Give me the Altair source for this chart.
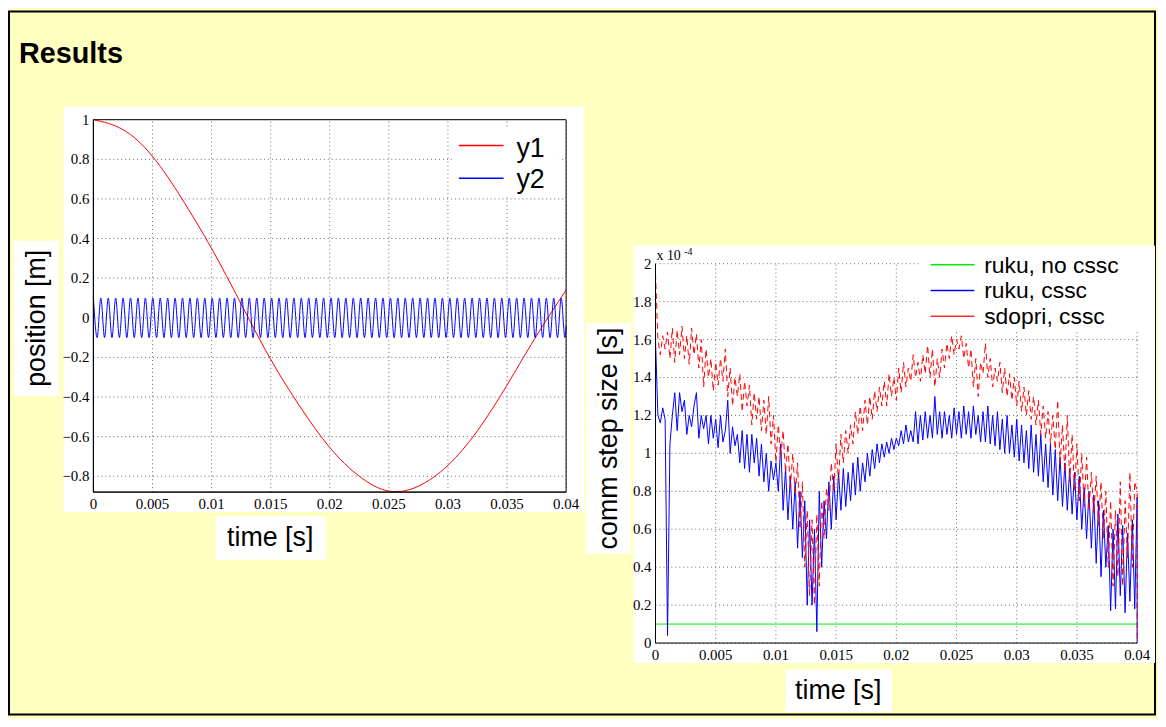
import altair as alt
import numpy as np
import pandas as pd

W, H = 1158, 711

# ---------------- left panel data ----------------
pos_series = ["y1", "y2"]
time_ticks = [0, 0.005, 0.01, 0.015, 0.02, 0.025, 0.03, 0.035, 0.04]
pos_ticks = [-0.8, -0.6, -0.4, -0.2, 0, 0.2, 0.4, 0.6, 0.8, 1]

y1_time = [0, 0.0025, 0.005, 0.0075, 0.01, 0.0125, 0.015, 0.0175, 0.02,
           0.0225, 0.025, 0.0275, 0.03, 0.0325, 0.035, 0.0375, 0.04]
y1_pos = [1.0, 0.95, 0.815, 0.60, 0.35, 0.07, -0.21, -0.45, -0.655,
          -0.80, -0.875, -0.85, -0.745, -0.57, -0.34, -0.09, 0.14]

# extremes of the fast oscillation (peak / trough times), last point at 0.04
y2_time = list(np.round(np.linspace(0, 0.039898, 128), 7)) + [0.04]
y2_pos = [
    0.1, -0.1, 0.1, -0.1, 0.1, -0.1, 0.1, -0.1, 0.1, -0.1, 0.1, -0.1, 0.1, -0.1, 0.1, -0.1,
    0.1, -0.1, 0.1, -0.1, 0.1, -0.1, 0.1, -0.1, 0.1, -0.1, 0.1, -0.1, 0.1, -0.1, 0.1, -0.1,
    0.1, -0.1, 0.1, -0.1, 0.1, -0.1, 0.1, -0.1, 0.1, -0.1, 0.1, -0.1, 0.1, -0.1, 0.1, -0.1,
    0.1, -0.1, 0.1, -0.1, 0.1, -0.1, 0.1, -0.1, 0.1, -0.1, 0.1, -0.1, 0.1, -0.1, 0.1, -0.1,
    0.1, -0.1, 0.1, -0.1, 0.1, -0.1, 0.1, -0.1, 0.1, -0.1, 0.1, -0.1, 0.1, -0.1, 0.1, -0.1,
    0.1, -0.1, 0.1, -0.1, 0.1, -0.1, 0.1, -0.1, 0.1, -0.1, 0.1, -0.1, 0.1, -0.1, 0.1, -0.1,
    0.1, -0.1, 0.1, -0.1, 0.1, -0.1, 0.1, -0.1, 0.1, -0.1, 0.1, -0.1, 0.1, -0.1, 0.1, -0.1,
    0.1, -0.1, 0.1, -0.1, 0.1, -0.1, 0.1, -0.1, 0.1, -0.1, 0.1, -0.1, 0.1, -0.1, 0.1, -0.1,
    -0.04]

# ---------------- right panel data (units of 1e-4 s) ----------------
step_series = ["ruku, no cssc", "ruku, cssc", "sdopri, cssc"]
step_ticks = [0, 0.2, 0.4, 0.6, 0.8, 1, 1.2, 1.4, 1.6, 1.8, 2]

nocssc_time = [0, 0.04]
ruku_nocssc = [0.1, 0.1]

step_time = list(np.round(np.arange(201) * 0.0002, 6)) + [0.04]
ruku_cssc = [
    1.60, 1.20, 1.16, 1.24, 1.18, 0.04, 1.05, 1.20, 1.32, 1.12,
    1.32, 1.22, 1.28, 1.10, 1.20, 1.14, 1.25, 1.32, 1.08, 1.20,
    1.13, 1.20, 1.05, 1.20, 1.08, 1.18, 1.03, 1.20, 1.06, 1.12,
    1.28, 1.00, 1.14, 1.04, 1.10, 0.95, 1.12, 0.92, 1.10, 0.90,
    1.10, 0.95, 1.08, 0.88, 1.05, 0.85, 1.00, 0.80, 0.96, 0.86,
    0.95, 0.80, 1.05, 0.70, 0.92, 0.65, 0.88, 0.60, 0.85, 0.50,
    0.80, 0.45, 0.75, 0.20, 0.65, 0.20, 0.60, 0.06, 0.80, 0.40,
    0.75, 0.55, 0.85, 0.60, 0.88, 0.65, 0.90, 0.70, 0.92, 0.72,
    0.90, 0.75, 0.95, 0.78, 0.98, 0.80, 0.95, 0.85, 1.00, 0.88,
    1.02, 0.92, 1.05, 0.95, 1.05, 0.98, 1.06, 1.00, 1.08, 1.02,
    1.08, 1.04, 1.12, 1.05, 1.15, 1.06, 1.12, 1.06, 1.22, 1.05,
    1.20, 1.07, 1.22, 1.08, 1.20, 1.08, 1.30, 1.10, 1.22, 1.08,
    1.22, 1.10, 1.20, 1.08, 1.24, 1.10, 1.22, 1.08, 1.25, 1.10,
    1.22, 1.08, 1.25, 1.10, 1.20, 1.06, 1.22, 1.06, 1.25, 1.05,
    1.20, 1.04, 1.22, 1.02, 1.18, 1.00, 1.20, 1.00, 1.15, 0.98,
    1.18, 0.96, 1.15, 0.95, 1.12, 0.92, 1.15, 0.90, 1.10, 0.88,
    1.10, 0.85, 1.05, 0.82, 1.05, 0.78, 1.02, 0.75, 0.98, 0.72,
    0.95, 0.70, 0.92, 0.68, 0.90, 0.65, 0.88, 0.60, 0.82, 0.55,
    0.80, 0.50, 0.78, 0.42, 0.75, 0.35, 0.70, 0.40, 0.62, 0.17,
    0.60, 0.18, 0.68, 0.25, 0.62, 0.16, 0.58, 0.22, 0.65, 0.18,
    0.77, 0.0]
sdopri_cssc = [
    1.95, 1.60, 1.52, 1.62, 1.55, 1.64, 1.50, 1.66, 1.48, 1.65,
    1.52, 1.67, 1.50, 1.62, 1.47, 1.66, 1.52, 1.63, 1.45, 1.60,
    1.35, 1.55, 1.40, 1.50, 1.33, 1.48, 1.36, 1.50, 1.38, 1.55,
    1.30, 1.45, 1.25, 1.40, 1.30, 1.42, 1.22, 1.38, 1.25, 1.36,
    1.15, 1.32, 1.18, 1.30, 1.12, 1.28, 1.10, 1.30, 1.05, 1.20,
    0.95, 1.15, 0.98, 1.12, 0.90, 1.05, 0.82, 1.00, 0.78, 0.95,
    0.60, 0.85, 0.40, 0.70, 0.25, 0.65, 0.20, 0.68, 0.30, 0.75,
    0.55, 0.82, 0.70, 0.95, 0.80, 1.05, 0.85, 1.10, 0.95, 1.12,
    1.00, 1.15, 1.05, 1.22, 1.10, 1.25, 1.12, 1.28, 1.15, 1.30,
    1.18, 1.33, 1.22, 1.35, 1.25, 1.38, 1.25, 1.42, 1.30, 1.40,
    1.28, 1.45, 1.32, 1.48, 1.35, 1.45, 1.38, 1.52, 1.40, 1.48,
    1.38, 1.52, 1.42, 1.57, 1.40, 1.55, 1.35, 1.50, 1.40, 1.55,
    1.45, 1.58, 1.50, 1.62, 1.52, 1.60, 1.55, 1.62, 1.50, 1.58,
    1.45, 1.55, 1.35, 1.50, 1.30, 1.48, 1.42, 1.58, 1.40, 1.50,
    1.35, 1.45, 1.38, 1.48, 1.32, 1.45, 1.30, 1.42, 1.28, 1.40,
    1.25, 1.38, 1.22, 1.35, 1.20, 1.33, 1.18, 1.30, 1.15, 1.28,
    1.10, 1.25, 1.08, 1.22, 1.05, 1.20, 1.02, 1.28, 0.95, 1.15,
    0.90, 1.20, 0.85, 1.10, 0.80, 1.05, 0.75, 1.00, 0.72, 0.98,
    0.70, 0.90, 0.68, 0.88, 0.62, 0.85, 0.55, 0.80, 0.40, 0.75,
    0.30, 0.70, 0.35, 0.85, 0.30, 0.75, 0.45, 0.90, 0.40, 0.85,
    0.80, 0.0]

# ---------------- helpers ----------------
one = alt.Data(values=[{}])
SANS = "Liberation Sans"
SERIF = "Liberation Serif"
grid_style = dict(color="#6a6a6a", strokeDash=[1, 3], strokeWidth=1)


def box(x1, y1, x2, y2, **kw):
    style = dict(fill="white")
    style.update(kw)
    return alt.Chart(one).mark_rect(**style).encode(
        x=alt.value(x1), x2=alt.value(x2), y=alt.value(y1), y2=alt.value(y2))


def label(txt, x, y, size, angle=0, weight="normal", align="center",
          baseline="middle", font=SANS):
    kw = dict(text=txt, fontSize=size, font=font, fontWeight=weight,
              align=align, baseline=baseline, color="black")
    if angle:
        kw["angle"] = angle
    return alt.Chart(one).mark_text(**kw).encode(x=alt.value(x), y=alt.value(y))


def swatch(x1, x2, y, color):
    return alt.Chart(one).mark_rule(color=color, strokeWidth=1.5).encode(
        x=alt.value(x1), x2=alt.value(x2), y=alt.value(y))


def xd(v, s):
    return alt.XDatum(datum=v, type="quantitative", scale=s, axis=None)


def yd(v, s):
    return alt.YDatum(datum=v, type="quantitative", scale=s, axis=None)


def panel(xs, ys, xdom, ydom, xt, yt, frame):
    xdf = pd.DataFrame({"v": xt})
    ydf = pd.DataFrame({"v": yt})
    vgrid = alt.Chart(xdf).mark_rule(**grid_style).encode(
        x=alt.X("v:Q", scale=xs, axis=None), y=yd(ydom[0], ys), y2=alt.Y2Datum(datum=ydom[1]))
    hgrid = alt.Chart(ydf).mark_rule(**grid_style).encode(
        y=alt.Y("v:Q", scale=ys, axis=None), x=xd(xdom[0], xs), x2=alt.X2Datum(datum=xdom[1]))
    xlab = alt.Chart(xdf).mark_text(font=SERIF, fontSize=15, color="black", align="center",
                                    baseline="top", dy=5).encode(
        x=alt.X("v:Q", scale=xs, axis=None), y=yd(ydom[0], ys),
        text=alt.Text("v:Q", format="~g"))
    ylab = alt.Chart(ydf).mark_text(font=SERIF, fontSize=15, color="black", align="right",
                                    baseline="middle", dx=-4).encode(
        y=alt.Y("v:Q", scale=ys, axis=None), x=xd(xdom[0], xs),
        text=alt.Text("v:Q", format="~g"))
    xdomain = alt.Chart(one).mark_rule(color="black", strokeWidth=1).encode(
        x=xd(xdom[0], xs), x2=alt.X2Datum(datum=xdom[1]), y=yd(ydom[0], ys))
    ydomain = alt.Chart(one).mark_rule(color="black", strokeWidth=1).encode(
        y=yd(ydom[0], ys), y2=alt.Y2Datum(datum=ydom[1]), x=xd(xdom[0], xs))
    layers = [vgrid, hgrid, xdomain, ydomain, xlab, ylab]
    if frame:
        layers.append(alt.Chart(one).mark_rect(fillOpacity=0, stroke="black", strokeWidth=1).encode(
            x=xd(xdom[0], xs), x2=alt.X2Datum(datum=xdom[1]),
            y=yd(ydom[0], ys), y2=alt.Y2Datum(datum=ydom[1])))
    return layers


def series_line(t, v, color, xs, ys, **kw):
    df = pd.DataFrame({"t": t, "v": v, "i": range(len(v))})
    return alt.Chart(df).mark_line(color=color, strokeWidth=1, **kw).encode(
        x=alt.X("t:Q", scale=xs, axis=None),
        y=alt.Y("v:Q", scale=ys, axis=None),
        order=alt.Order("i:Q"))


# ---------------- left panel ----------------
xl = alt.Scale(domain=[0, 0.04], range=[86, 562], nice=False, zero=False)
yl = alt.Scale(domain=[-0.88, 1.0], range=[485, 110], nice=False, zero=False)
left_layers = panel(xl, yl, [0, 0.04], [-0.88, 1.0], time_ticks, pos_ticks, frame=True)
left_layers.insert(2, series_line(y1_time, y1_pos, "#ff0000", xl, yl, interpolate="natural"))
left_layers.insert(3, series_line(y2_time, y2_pos, "#0000ff", xl, yl, interpolate="monotone"))
left_plot = alt.layer(*left_layers)

# ---------------- right panel ----------------
xr = alt.Scale(domain=[0, 0.04], range=[652, 1137], nice=False, zero=False)
yr = alt.Scale(domain=[0, 2], range=[637, 255], nice=False, zero=False)
right_layers = panel(xr, yr, [0, 0.04], [0, 2], time_ticks, step_ticks, frame=False)
lines_r = [
    series_line(nocssc_time, ruku_nocssc, "#00ee00", xr, yr),
    series_line(step_time, ruku_cssc, "#0000ff", xr, yr),
    series_line(step_time, sdopri_cssc, "#ff0000", xr, yr, strokeDash=[6, 4]),
]
right_layers = right_layers[:2] + lines_r + right_layers[2:]
right_plot = alt.layer(*right_layers)

# ---------------- slide decoration ----------------
background = [
    box(1, 1, 1155, 709, fillOpacity=0, stroke="black", strokeWidth=2),
    box(56, 97, 580, 505),            # left figure
    box(630, 237, 1155, 657),         # right figure
    box(6, 232, 51, 388),             # position label
    box(209, 509, 320, 553),          # time label left
    box(582, 315, 627, 547),          # comm step size label
    box(783, 664, 890, 706),          # time label right
]

# legend backgrounds (drawn above grid, below legend entries)
legend_bg = [box(447, 117, 555, 188), box(917, 252, 1140, 322)]

overlay = [
    # left legend
    swatch(454, 499, 136, "#ff0000"),
    label(pos_series[0], 512, 148, 27, align="left", baseline="alphabetic"),
    swatch(454, 499, 169, "#0000ff"),
    label(pos_series[1], 512, 179, 27, align="left", baseline="alphabetic"),
    # right legend
    swatch(929, 973, 256, "#00ee00"),
    label(step_series[0], 983, 264, 23, align="left", baseline="alphabetic"),
    swatch(929, 973, 282, "#0000ff"),
    label(step_series[1], 983, 290, 23, align="left", baseline="alphabetic"),
    swatch(929, 973, 308, "#ff3030"),
    label(step_series[2], 983, 316, 23, align="left", baseline="alphabetic"),
    # texts
    label("Results", 11, 53, 29, weight="bold", align="left", baseline="alphabetic"),
    label("position [m]", 29, 310, 27, angle=270),
    label("time [s]", 264, 531, 27),
    label("comm step size [s]", 605, 431, 27, angle=270),
    label("time [s]", 836, 685, 27),
    label("x 10", 653, 251, 14, align="left", baseline="alphabetic", font=SERIF),
    label("-4", 681, 246, 10, align="left", baseline="alphabetic", font=SERIF),
]

chart = alt.layer(*background, left_plot, right_plot, *legend_bg, *overlay).resolve_scale(
    x="independent", y="independent"
).properties(
    width=W, height=H, autosize=alt.AutoSizeParams(type="none"), padding=0,
    background="#ffffc0",
).configure_view(strokeWidth=0)

chart.save("out.html", embed_options={"renderer": "svg", "actions": False})
